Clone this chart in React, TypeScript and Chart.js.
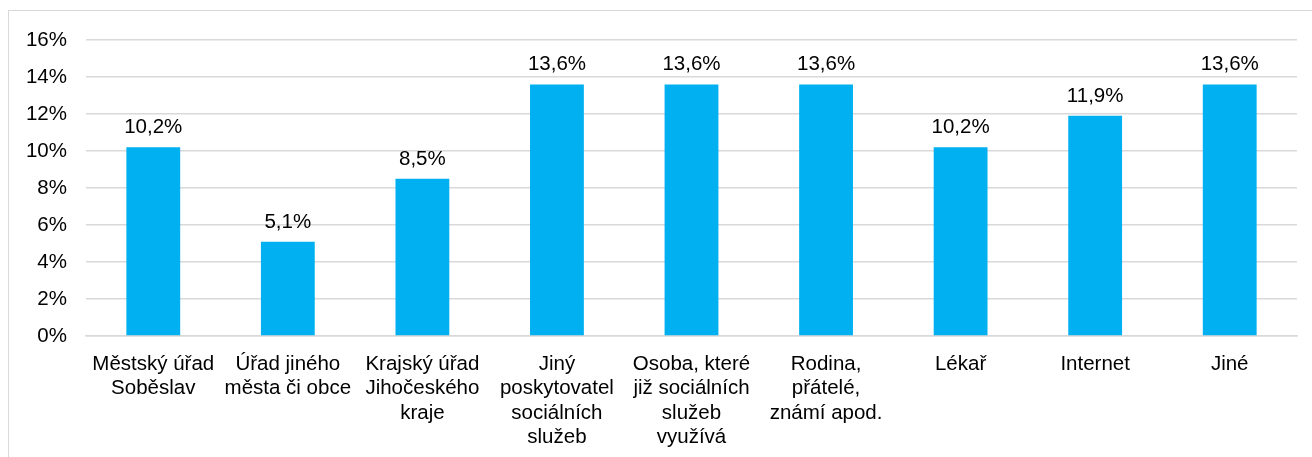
import React, { useEffect, useRef } from "react";
import { Chart, registerables } from "chart.js";

Chart.register(...registerables);

const categories: string[][] = [
  ["Městský úřad", "Soběslav"],
  ["Úřad jiného", "města či obce"],
  ["Krajský úřad", "Jihočeského", "kraje"],
  ["Jiný", "poskytovatel", "sociálních", "služeb"],
  ["Osoba, které", "již sociálních", "služeb", "využívá"],
  ["Rodina,", "přátelé,", "známí apod."],
  ["Lékař"],
  ["Internet"],
  ["Jiné"],
];
const values: number[] = [10.2, 5.1, 8.5, 13.6, 13.6, 13.6, 10.2, 11.9, 13.6];
const yTicks: number[] = [0, 2, 4, 6, 8, 10, 12, 14, 16];

const FONT = "'Liberation Sans', Arial, sans-serif";
const FS = 20.5;

const valueLabels = {
  id: "valueLabels",
  afterDatasetsDraw(chart: any) {
    const ctx = chart.ctx;
    const meta = chart.getDatasetMeta(0);
    ctx.save();
    ctx.font = `${FS}px ${FONT}`;
    ctx.fillStyle = "#000";
    ctx.textAlign = "center";
    ctx.textBaseline = "alphabetic";
    meta.data.forEach((bar: any, i: number) => {
      const v = values[i];
      ctx.fillText(v.toFixed(1).replace(".", ",") + "%", bar.x, bar.y - 14);
    });
    ctx.restore();
  },
};

export default function App() {
  const ref = useRef<HTMLCanvasElement>(null);
  useEffect(() => {
    if (!ref.current) return;
    const chart = new Chart(ref.current, {
      type: "bar",
      data: {
        labels: categories,
        datasets: [
          {
            data: values,
            backgroundColor: "#00B0F0",
            categoryPercentage: 1,
            barPercentage: 0.4,
          },
        ],
      },
      options: {
        responsive: false,
        animation: false,
        events: [],
        layout: { padding: { top: 40, right: 15, left: 0, bottom: 0 } },
        plugins: { legend: { display: false }, tooltip: { enabled: false } },
        scales: {
          x: {
            grid: { display: false, drawTicks: false },
            border: { display: true, color: "#d9d9d9", width: 1.5 },
            ticks: {
              autoSkip: false,
              maxRotation: 0,
              padding: 16,
              color: "#000",
              font: { family: FONT, size: FS, lineHeight: 1.19 },
            },
            afterFit: (s: any) => {
              s.height = 121;
            },
          },
          y: {
            min: 0,
            max: 16,
            afterBuildTicks: (s: any) => {
              s.ticks = yTicks.map((v) => ({ value: v }));
            },
            grid: { color: "#d9d9d9", lineWidth: 1.5, drawTicks: false },
            border: { display: false },
            ticks: {
              padding: 19,
              color: "#000",
              font: { family: FONT, size: FS },
              callback: (v: any) => v + "%",
            },
            afterFit: (s: any) => {
              s.width = 86;
            },
          },
        },
      },
      plugins: [valueLabels],
    });
    return () => chart.destroy();
  }, []);
  return (
    <div>
      <div
        style={{
          position: "absolute",
          left: 8,
          top: 10,
          width: 1330,
          height: 480,
          border: "1.5px solid #d9d9d9",
          boxSizing: "border-box",
        }}
      />
      <canvas
        ref={ref}
        width={1312}
        height={457}
        style={{ position: "absolute", left: 0, top: 0, width: 1312, height: 457 }}
      />
    </div>
  );
}
